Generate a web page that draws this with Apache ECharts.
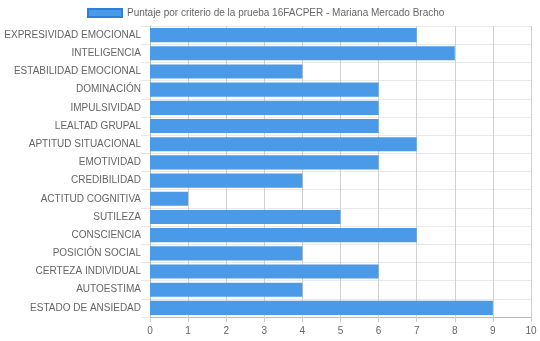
<!DOCTYPE html>
<html><head><meta charset="utf-8">
<script src="https://cdn.jsdelivr.net/npm/echarts@6/dist/echarts.min.js"></script>
<style>html,body{margin:0;padding:0;background:#fff}#c{width:540px;height:341px}</style>
</head><body><div id="c"></div>
<script>
var categories = ["EXPRESIVIDAD EMOCIONAL","INTELIGENCIA","ESTABILIDAD EMOCIONAL","DOMINACIÓN","IMPULSIVIDAD","LEALTAD GRUPAL","APTITUD SITUACIONAL","EMOTIVIDAD","CREDIBILIDAD","ACTITUD COGNITIVA","SUTILEZA","CONSCIENCIA","POSICIÓN SOCIAL","CERTEZA INDIVIDUAL","AUTOESTIMA","ESTADO DE ANSIEDAD"];
var values = [7,8,4,6,6,6,7,6,4,1,5,7,4,6,4,9];
var seriesName = "Puntaje por criterio de la prueba 16FACPER - Mariana Mercado Bracho";
var xTicks = [0,1,2,3,4,5,6,7,8,9,10];

var chart = echarts.init(document.getElementById('c'), null, {renderer:'canvas'});
var font = 'Liberation Sans, Arial, sans-serif';
chart.setOption({
  animation:false,
  textStyle:{fontFamily:font},
  legend:{
    top:3, left:82, itemWidth:34, itemHeight:8, itemGap:10,
    icon:'rect',
    textStyle:{color:'#666', fontSize:10, fontFamily:font, padding:[0,0,0,0]},
    itemStyle:{borderColor:'#2a7fdf', borderWidth:2},
    data:[seriesName]
  },
  grid:{left:150, right:9, top:26, bottom:24},
  xAxis:{
    type:'value', min:xTicks[0], max:xTicks[xTicks.length-1], interval:1,
    axisLine:{show:true, lineStyle:{color:'#bbb'}},
    axisTick:{show:true, length:5, lineStyle:{color:'#ccc'}},
    axisLabel:{color:'#666', fontSize:10, fontFamily:font, margin:9},
    splitLine:{show:true, lineStyle:{color:'#d0d0d0'}}
  },
  yAxis:{
    type:'category', data:categories, inverse:true,
    axisLine:{show:true, lineStyle:{color:'#bbb'}},
    axisTick:{show:true, length:9, lineStyle:{color:'#e6e6e6'}},
    axisLabel:{color:'#666', fontSize:10, fontFamily:font, margin:9},
    splitLine:{show:true, lineStyle:{color:'#e9e9e9'}}
  },
  series:[{
    name:seriesName, type:'bar', data:values,
    barCategoryGap:'22%',
    itemStyle:{color:'#4a9ae8'}
  }]
});
</script></body></html>
